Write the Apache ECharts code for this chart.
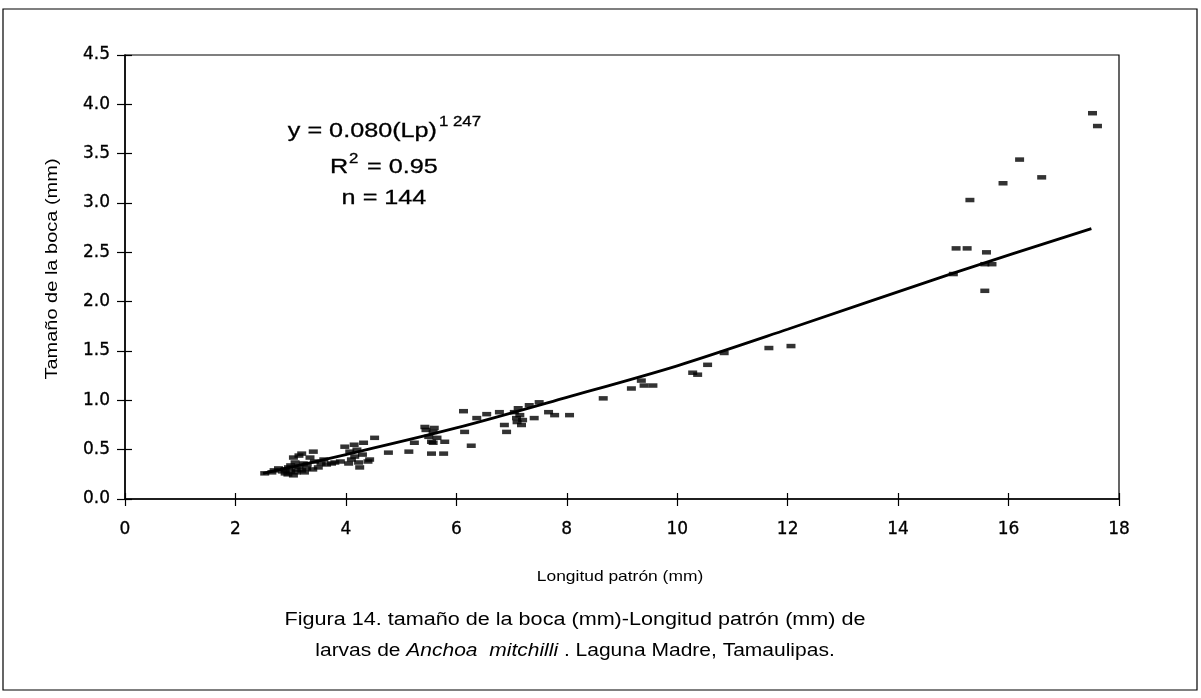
<!DOCTYPE html>
<html>
<head>
<meta charset="utf-8">
<script src="https://cdn.jsdelivr.net/npm/echarts@6/dist/echarts.min.js"></script>
<style>
html,body{margin:0;padding:0;background:#fff;}
#c{width:1201px;height:698px;}
</style>
</head>
<body>
<div id="c"></div>
<script>
// ---- Data ----
var xTicks = [0, 2, 4, 6, 8, 10, 12, 14, 16, 18];
var yTicks = [0.0, 0.5, 1.0, 1.5, 2.0, 2.5, 3.0, 3.5, 4.0, 4.5];

var lengthMm = [
  2.53,2.66,2.70,2.78,2.85,2.90,2.90,2.95,2.96,3.00,3.00,3.05,3.05,3.08,3.10,3.10,3.15,3.15,3.20,3.20,
  3.23,3.25,3.29,3.30,3.35,3.40,3.41,3.43,3.50,3.55,3.60,3.65,3.74,3.80,3.90,
  3.98,4.05,4.07,4.10,4.15,4.16,4.20,4.23,4.25,4.30,4.32,4.40,4.43,4.52,4.77,
  5.14,5.24,5.43,5.45,5.50,5.55,5.55,5.58,5.58,5.60,5.65,5.77,5.79,
  6.13,6.15,6.27,6.37,6.55,6.78,6.87,6.91,7.05,7.09,7.10,7.12,7.15,7.18,7.20,7.32,7.41,7.50,7.67,7.78,8.05,
  8.66,9.17,9.35,9.40,9.56,10.28,10.37,10.55,10.85,11.66,12.06,
  15.00,15.05,15.25,15.30,15.57,15.57,15.60,15.70,15.90,16.20,16.60,17.52,17.61
];
var mouthMm = [
  0.26,0.27,0.29,0.31,0.28,0.26,0.30,0.25,0.32,0.28,0.34,0.24,0.42,0.37,0.30,0.27,0.33,0.44,0.46,0.29,
  0.36,0.27,0.31,0.35,0.42,0.30,0.48,0.38,0.32,0.36,0.40,0.35,0.36,0.37,0.38,
  0.53,0.36,0.48,0.40,0.55,0.43,0.50,0.37,0.32,0.45,0.57,0.38,0.40,0.62,0.47,
  0.48,0.57,0.73,0.70,0.63,0.58,0.46,0.68,0.57,0.72,0.62,0.46,0.58,
  0.89,0.68,0.54,0.82,0.86,0.88,0.75,0.68,0.88,0.82,0.78,0.92,0.85,0.75,0.80,0.95,0.82,0.98,0.88,0.85,0.85,
  1.02,1.12,1.20,1.15,1.15,1.28,1.26,1.36,1.48,1.53,1.55,
  2.28,2.54,2.54,3.03,2.38,2.11,2.50,2.38,3.20,3.44,3.26,3.91,3.78
];
// fitted curve
var fitX = [2.5, 4, 6, 8, 10, 12, 15, 17.5];
var fitY = [0.26, 0.45, 0.72, 1.03, 1.35, 1.72, 2.29, 2.74];

var points = lengthMm.map(function (v, i) { return [v, mouthMm[i]]; });
var fitLine = fitX.map(function (v, i) { return [v, fitY[i]]; });

var FONT = '"Liberation Sans", Arial, sans-serif';
var TICKFONT = '"DejaVu Sans", sans-serif';
var SX = 1.2; // horizontal stretch of the scanned lettering

function txt(x, y, s, size, align, heavy) {
  var st = { text: s, font: size + 'px ' + FONT, fill: '#000', align: align || 'center', verticalAlign: 'middle' };
  if (heavy) { st.stroke = '#000'; st.lineWidth = 0.3; }
  return { type: 'text', x: x, y: y, scaleX: SX, silent: true, style: st };
}

var chart = echarts.init(document.getElementById('c'));
chart.setOption({
  animation: false,
  backgroundColor: '#fff',
  grid: { left: 125, right: 82, top: 55, bottom: 199, show: true, borderColor: '#000', borderWidth: 1.2, backgroundColor: 'transparent' },
  xAxis: [{
    type: 'value', min: 0, max: 18, interval: 2,
    axisLine: { show: true, lineStyle: { color: '#000', width: 1.5 } },
    axisTick: { show: true, inside: false, length: 7, lineStyle: { color: '#000', width: 1.2 } },
    axisLabel: { fontFamily: TICKFONT, fontSize: 17, color: '#000', margin: 22,
      textBorderColor: '#000', textBorderWidth: 0.3,
      formatter: function (v) { return xTicks.indexOf(v) >= 0 ? String(v) : ''; } },
    splitLine: { show: false }
  }, {
    type: 'value', min: 0, max: 18, interval: 2, position: 'bottom',
    axisLine: { show: false },
    axisTick: { show: true, inside: true, length: 6, lineStyle: { color: '#000', width: 1.2 } },
    axisLabel: { show: false }, splitLine: { show: false }
  }],
  yAxis: [{
    type: 'value', min: 0, max: 4.5, interval: 0.5,
    axisLine: { show: true, lineStyle: { color: '#000', width: 1.5 } },
    axisTick: { show: true, inside: false, length: 8, lineStyle: { color: '#000', width: 1.2 } },
    axisLabel: { fontFamily: TICKFONT, fontSize: 17, color: '#000', margin: 15,
      textBorderColor: '#000', textBorderWidth: 0.3,
      formatter: function (v) { return yTicks.indexOf(v) >= 0 ? v.toFixed(1) : ''; } },
    splitLine: { show: false }
  }, {
    type: 'value', min: 0, max: 4.5, interval: 0.5, position: 'left',
    axisLine: { show: false },
    axisTick: { show: true, inside: true, length: 7, lineStyle: { color: '#000', width: 1.2 } },
    axisLabel: { show: false }, splitLine: { show: false }
  }],
  series: [{
    type: 'scatter', xAxisIndex: 0, yAxisIndex: 0,
    data: points, symbol: 'rect', symbolSize: [9, 4.5],
    itemStyle: { color: '#000' }, z: 3
  }, {
    type: 'line', xAxisIndex: 0, yAxisIndex: 0,
    data: fitLine, smooth: 0.3, showSymbol: false,
    lineStyle: { color: '#000', width: 2.8 }, z: 4
  }],
  graphic: [
    { type: 'rect', shape: { x: 3, y: 9, width: 1194, height: 681 },
      style: { fill: 'none', stroke: '#000', lineWidth: 1.2 }, silent: true, z: -1 },
    // regression annotation
    txt(437, 131, 'y = 0.080(Lp)', 21, 'right', true),
    txt(439, 122, '1 247', 14, 'left', true),
    txt(330, 167, 'R', 21, 'left', true),
    txt(349, 159, '2', 14, 'left', true),
    txt(367, 167, '= 0.95', 21, 'left', true),
    txt(384, 198, 'n = 144', 21, 'center', true),
    // axis titles
    txt(620, 577, 'Longitud patrón (mm)', 14.5, 'center', false),
    { type: 'text', x: 53, y: 269, rotation: Math.PI / 2, scaleX: 1.25, silent: true,
      style: { text: 'Tamaño de la boca (mm)', font: '16px ' + FONT, fill: '#000',
               align: 'center', verticalAlign: 'middle' } },
    // caption
    txt(575, 620, 'Figura 14. tamaño de la boca (mm)-Longitud patrón (mm) de', 18, 'center', false),
    { type: 'text', x: 575, y: 651, scaleX: SX, silent: true, style: {
      text: '{n|larvas de }{i|Anchoa  mitchilli}{n| . Laguna Madre, Tamaulipas.}', align: 'center', verticalAlign: 'middle',
      rich: { n: { fontFamily: FONT, fontSize: 17.5, fill: '#000' },
              i: { fontFamily: FONT, fontSize: 17.5, fontStyle: 'italic', fill: '#000' } } } }
  ]
});
</script>
</body>
</html>
